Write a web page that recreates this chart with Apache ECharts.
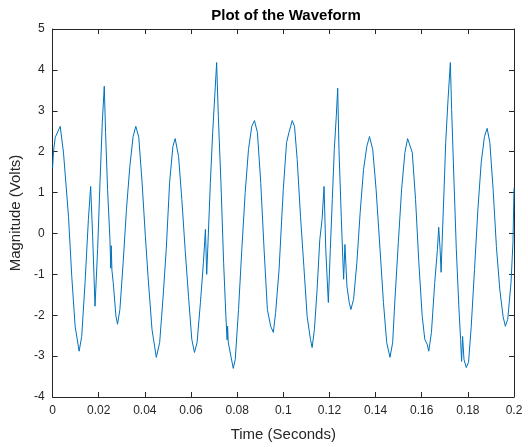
<!DOCTYPE html>
<html>
<head>
<meta charset="utf-8">
<script src="https://cdn.jsdelivr.net/npm/echarts@6/dist/echarts.min.js"></script>
<style>html,body{margin:0;padding:0;background:#fff}#c{width:528px;height:447px}</style>
</head>
<body>
<div id="c"></div>
<script>
const titleText = "Plot of the Waveform";
const xLabel = "Time (Seconds)";
const yLabel = "Magnitude (Volts)";
const xTicks = [0, 0.02, 0.04, 0.06, 0.08, 0.1, 0.12, 0.14, 0.16, 0.18, 0.2];
const yTicks = [-4, -3, -2, -1, 0, 1, 2, 3, 4, 5];

const timeValues = [
0, 0.0004, 0.00116, 0.00332, 0.00474, 0.0069, 0.00832, 0.00978, 0.01151, 0.01263,
0.01409, 0.01552, 0.01651, 0.01737, 0.0184, 0.01953, 0.02056, 0.02155, 0.02241, 0.02297,
0.02384, 0.02487, 0.02522, 0.02543, 0.02573, 0.02629, 0.02746, 0.02815, 0.02918, 0.0306,
0.03203, 0.03349, 0.03491, 0.03608, 0.03737, 0.03879, 0.04022, 0.04138, 0.0431, 0.04496,
0.04642, 0.04784, 0.04927, 0.05073, 0.05216, 0.05315, 0.05461, 0.05603, 0.05746, 0.05892,
0.06034, 0.06151, 0.06263, 0.06409, 0.06539, 0.06625, 0.06681, 0.06737, 0.0684, 0.0694,
0.07039, 0.07112, 0.07185, 0.07297, 0.07414, 0.07513, 0.07565, 0.07586, 0.07616, 0.07728,
0.07832, 0.07918, 0.0806, 0.08203, 0.08349, 0.08491, 0.08634, 0.0875, 0.08879, 0.09022,
0.09168, 0.0931, 0.09453, 0.09569, 0.09668, 0.09815, 0.09927, 0.1, 0.10142, 0.10246,
0.10388, 0.10487, 0.10603, 0.10746, 0.10892, 0.11034, 0.11177, 0.1125, 0.11349, 0.11466,
0.11582, 0.11681, 0.11767, 0.11841, 0.11953, 0.12039, 0.12125, 0.12211, 0.12297, 0.12358,
0.12414, 0.12513, 0.12586, 0.12616, 0.12672, 0.12759, 0.12858, 0.12931, 0.13047, 0.1319,
0.13332, 0.13478, 0.13621, 0.13737, 0.13879, 0.14022, 0.14194, 0.14341, 0.14483, 0.14625,
0.14741, 0.1484, 0.14987, 0.15129, 0.15272, 0.15388, 0.15461, 0.15591, 0.15733, 0.15875,
0.16022, 0.16134, 0.16237, 0.16306, 0.16422, 0.16565, 0.16681, 0.16737, 0.16797, 0.16841,
0.16884, 0.1697, 0.17039, 0.17142, 0.17241, 0.17297, 0.17401, 0.175, 0.17616, 0.17685,
0.17728, 0.17772, 0.17832, 0.17931, 0.1803, 0.18147, 0.18289, 0.18435, 0.18578, 0.1872,
0.18836, 0.18953, 0.19095, 0.19237, 0.19384, 0.19526, 0.19625, 0.19728, 0.19871, 0.19957,
0.2
];
const voltValues = [
1.6, 2.0, 2.35, 2.62, 1.97, 0.42, -1.05, -2.27, -2.88, -2.52,
-1.2, 0.34, 1.15, -0.07, -1.78, -0.39, 1.25, 2.71, 3.6, 2.47,
1.08, -0.15, -0.85, -0.3, -0.9, -1.2, -2.02, -2.22, -1.86, -0.71,
0.59, 1.64, 2.37, 2.62, 2.35, 1.25, -0.07, -1.05, -2.35, -3.03,
-2.67, -1.6, -0.39, 1.25, 2.13, 2.32, 1.88, 0.83, -0.39, -1.54,
-2.59, -2.91, -2.67, -1.69, -0.71, 0.1, -1.0, -0.22, 1.25, 2.47,
3.45, 4.18, 2.86, 1.25, -0.71, -2.03, -2.6, -2.27, -2.67, -3.0,
-3.3, -3.08, -1.86, -0.39, 1.0, 2.05, 2.62, 2.76, 2.47, 1.25,
-0.39, -1.86, -2.27, -2.42, -1.93, -0.9, 0.3, 1.08, 2.22, 2.47,
2.76, 2.62, 1.81, 0.42, -0.81, -2.03, -2.59, -2.79, -2.35, -1.37,
-0.15, 0.34, 1.15, -0.39, -1.69, -0.39, 0.83, 2.05, 2.86, 3.55,
2.05, 0.42, -0.71, -1.12, -0.27, -1.29, -1.69, -1.86, -1.61, -0.71,
0.51, 1.56, 2.13, 2.37, 2.05, 1.08, -0.39, -1.69, -2.67, -3.03,
-2.67, -1.61, -0.22, 1.08, 1.98, 2.32, 2.35, 1.98, 0.83, -0.71,
-2.03, -2.59, -2.71, -2.88, -2.42, -1.2, -0.39, 0.15, -0.39, -0.95,
-0.22, 1.08, 2.22, 3.28, 4.18, 3.03, 1.25, -0.39, -1.86, -2.59,
-3.13, -2.52, -3.08, -3.28, -3.15, -2.27, -0.88, 0.59, 1.73, 2.37,
2.57, 2.22, 1.08, -0.32, -1.37, -2.03, -2.27, -2.1, -1.2, -0.2,
1.1
];

const axisColor = '#262626';
const font = '"Liberation Sans", Arial, Helvetica, sans-serif';
const fmtX = v => String(+v.toFixed(2));

const seriesData = timeValues.map((t, i) => [t, voltValues[i]]);

const chart = echarts.init(document.getElementById('c'), null, {renderer: 'canvas'});
const baseX = {
  type: 'value', min: xTicks[0], max: xTicks[xTicks.length - 1], interval: 0.02,
  axisLine: {show: true, onZero: false, lineStyle: {color: axisColor, width: 1}},
  axisTick: {show: true, inside: true, length: 5, lineStyle: {color: axisColor}},
  splitLine: {show: false}
};
const baseY = {
  type: 'value', min: yTicks[0], max: yTicks[yTicks.length - 1], interval: 1,
  axisLine: {show: true, onZero: false, lineStyle: {color: axisColor, width: 1}},
  axisTick: {show: true, inside: true, length: 5, lineStyle: {color: axisColor}},
  splitLine: {show: false}
};
chart.setOption({
  animation: false,
  backgroundColor: '#fff',
  title: {
    text: titleText, left: 281, top: 3, textAlign: 'center',
    textStyle: {fontFamily: font, fontSize: 15, fontWeight: 'bold', color: '#000'}
  },
  grid: {left: 49, right: 14, top: 29, bottom: 50, containLabel: false},
  xAxis: [
    Object.assign({}, baseX, {
      position: 'bottom',
      name: xLabel, nameLocation: 'middle', nameGap: 30,
      nameTextStyle: {fontFamily: font, fontSize: 15, color: axisColor},
      axisLabel: {show: true, margin: 8, formatter: fmtX, fontFamily: font, fontSize: 12, color: axisColor}
    }),
    Object.assign({}, baseX, {position: 'top', axisLabel: {show: false}})
  ],
  yAxis: [
    Object.assign({}, baseY, {
      position: 'left',
      name: yLabel, nameLocation: 'middle', nameGap: 22, nameRotate: 90,
      nameTextStyle: {fontFamily: font, fontSize: 15, color: axisColor},
      axisLabel: {show: true, margin: 8, fontFamily: font, fontSize: 12, color: axisColor}
    }),
    Object.assign({}, baseY, {position: 'right', axisLabel: {show: false}})
  ],
  series: [{
    type: 'line', xAxisIndex: 0, yAxisIndex: 0,
    data: seriesData, showSymbol: false, smooth: false,
    lineStyle: {color: '#0072BD', width: 1},
    clip: true
  }]
});
</script>
</body>
</html>
